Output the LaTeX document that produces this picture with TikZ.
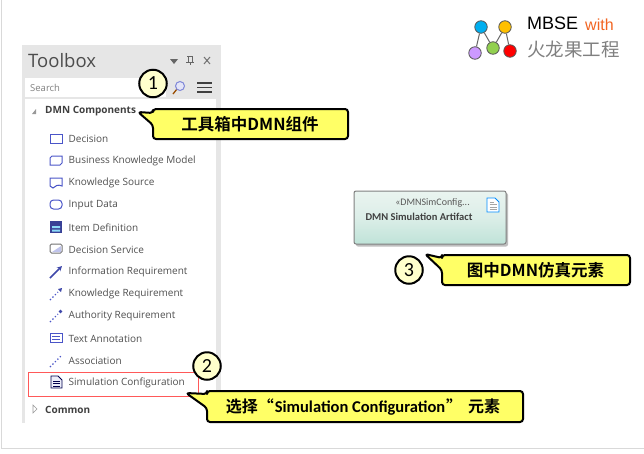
\documentclass[tikz,border=0pt]{standalone}
\usepackage{fontspec}
\setmainfont{Open Sans}
\newfontfamily\cjk{Noto Sans CJK SC}[BoldFont={Noto Sans CJK SC Bold}]
\newfontfamily\carl{Carlito}
\newfontfamily\libs{Liberation Sans}
\usetikzlibrary{arrows.meta,shadows}
\definecolor{itemtext}{HTML}{505050}
\definecolor{iconblue}{HTML}{4A55C8}
\definecolor{calloutfill}{HTML}{FFFF66}
\definecolor{circlefill}{HTML}{FFFFCC}
\definecolor{panelgrey}{HTML}{E6E6E6}
\definecolor{elemtop}{HTML}{EAF4F0}
\definecolor{elemmid}{HTML}{DCEEE8}
\definecolor{elembot}{HTML}{BFE3D8}
\definecolor{logoblue}{HTML}{00AEEF}
\definecolor{logoorange}{HTML}{FFC000}
\definecolor{logopurple}{HTML}{CC99FF}
\definecolor{logogreen}{HTML}{92D050}
\definecolor{logored}{HTML}{FF0000}
\definecolor{logowith}{HTML}{F26522}
\tikzset{
  x=1pt,y=-1pt,
  itemlabel/.style={anchor=west,inner sep=0pt,text=itemtext,font=\fontsize{10}{12}\selectfont},
  grouplabel/.style={anchor=west,inner sep=0pt,text=black!75,font=\fontsize{10}{12}\selectfont\bfseries},
  callout/.style={draw=black,line width=2pt,fill=calloutfill,rounded corners=3pt,line join=round},
  calltext/.style={inner sep=0pt,text=black,font=\fontsize{16.5}{18}\selectfont\bfseries\cjk},
  numcircle/.style={circle,draw=black,line width=2pt,fill=circlefill,inner sep=0pt,minimum size=27.5pt,font=\fontsize{20}{22}\selectfont\carl},
  iconline/.style={draw=iconblue,line width=1pt,fill=white},
  dotted link/.style={draw=iconblue,line width=1.2pt,dash pattern=on 1.3pt off 2.2pt},
  logoedge/.style={draw=black!60,line width=1pt},
  logodot/.style={circle,draw=black!65,line width=.8pt,inner sep=0pt,minimum size=12.5pt},
}
\begin{document}
\begin{tikzpicture}
\useasboundingbox (0,0) rectangle (644,453);
\fill[white] (0,0) rectangle (644,453);
\draw[black!15,line width=1pt] (1,-2) -- (1,448) -- (644,448);
% toolbox panel
\fill[panelgrey] (22,45) rectangle (221,423);
\fill[white] (25,99) rectangle (216,423);
\fill[white] (25,78) rectangle (166,97);
\node[anchor=west,inner sep=0pt,text=black!70,font=\fontsize{18.5}{20}\selectfont] (title) at (28,60.5) {Toolbox};
\fill[black!60] (170,59) -- (178,59) -- (174,64) -- cycle;
\draw[black!60,line width=1pt] (187,56) -- (193,56) (188,56) rectangle (192,62) (186,62) -- (194,62) (190,62) -- (190,65);
\draw[black!55,line width=1pt] (204,57) -- (210,64) (210,57) -- (204,64);
\node[anchor=west,inner sep=0pt,text=black!50,font=\fontsize{9.5}{11}\selectfont] (search) at (30,87.5) {Search};
\draw[black!40!orange,line width=1.3pt] (177,89) -- (173,94);
\draw[iconblue!70,fill=iconblue!15,line width=1pt] (180,86) circle (4.5);
\draw[black!75,line width=1.4pt] (197,83) -- (212,83) (197,87.5) -- (212,87.5) (197,92) -- (212,92);
% groups
\fill[black!40] (36,109) -- (36,114) -- (32,114) -- cycle;
\node[grouplabel] (dmn) at (45,111.5) {DMN Components};
\draw[black!40,line width=.6pt,fill=white] (33,405) -- (37,409) -- (33,413) -- cycle;
\node[grouplabel] (common) at (45,409.5) {Common};
% items
\node[itemlabel] (i1) at (68.5,138.5) {Decision};
\node[itemlabel] (i2) at (68.5,160.5) {Business Knowledge Model};
\node[itemlabel] (i3) at (68.5,183) {Knowledge Source};
\node[itemlabel] (i4) at (68.5,205) {Input Data};
\node[itemlabel] (i5) at (68.5,227.5) {Item Definition};
\node[itemlabel] (i6) at (68.5,249.5) {Decision Service};
\node[itemlabel] (i7) at (68.5,271.5) {Information Requirement};
\node[itemlabel] (i8) at (68.5,294) {Knowledge Requirement};
\node[itemlabel] (i9) at (68.5,316) {Authority Requirement};
\node[itemlabel] (i10) at (68.5,338.5) {Text Annotation};
\node[itemlabel] (i11) at (68.5,360.5) {Association};
\node[itemlabel] (i12) at (68.5,382.5) {Simulation Configuration};
% icons
\draw[iconline] (50,134) rectangle (62,143);
\draw[iconline] (52,156) -- (62,156) -- (62,163) -- (60,165) -- (50,165) -- (50,158) -- cycle;
\draw[iconline] (50,178) -- (62,178) -- (62,186) .. controls (58,184) and (55,186) .. (53,188) .. controls (52,187) and (51,187) .. (50,186) -- cycle;
\draw[iconline,rounded corners=3.5pt] (50,200) rectangle (62,209);
\fill[iconblue!75!black] (50,221) rectangle (62,233);
\fill[cyan!45] (52,226) rectangle (60,228) (52,229.5) rectangle (60,231.5);
\draw[black!55,line width=1pt,fill=white,rounded corners=1.5pt] (50,244) rectangle (62,253);
\fill[iconblue!35] (52,252) -- (61,252) -- (61,246) -- cycle;
\draw[iconblue!85!black,line width=1.5pt,-{Stealth[length=5pt,width=5pt]}] (50,278) -- (62,266);
\draw[dotted link] (50,300) -- (58,292);
\fill[iconblue!85!black] (58,289) -- (62,288) -- (61,292) -- cycle;
\draw[dotted link] (50,322) -- (58,314);
\fill[iconblue!85!black] (60.5,311.5) circle (1.9);
\draw[iconline] (50,333) rectangle (62,342);
\draw[iconblue,line width=1pt] (52,336) -- (60,336);
\draw[iconblue,line width=.8pt] (52,339) -- (60,339);
\draw[dotted link] (50,367) -- (62,355);
\draw[black!70!blue,line width=.9pt,fill=iconblue!10] (51,376) -- (58,376) -- (62,380) -- (62,388) -- (51,388) -- cycle;
\draw[black!70!blue,line width=.6pt] (53,381) -- (60,381) (53,383.5) -- (60,383.5) (53,386) -- (60,386);
% selection box
\draw[red!65!white,line width=1pt] (28.5,372) rectangle (198.5,396.5);
% DMN element
\fill[black!25,rounded corners=2pt] (356,193) rectangle (508,246.5);
\shade[top color=elemtop,bottom color=elembot,middle color=elemmid,rounded corners=2pt] (354,191) rectangle (506,244);
\draw[black!50,line width=1pt,rounded corners=2pt] (354,191) rectangle (506,244);
\node[anchor=east,inner sep=0pt,text=black!65,font=\fontsize{10}{11}\selectfont\carl] (stereo) at (470,203) {«DMNSimConfig...};
\node[anchor=center,inner sep=0pt,text=black!75,font=\fontsize{10.5}{12}\selectfont\carl\bfseries] (artifact) at (419,217) {DMN Simulation Artifact};
\draw[blue!45!cyan,line width=.8pt,fill=white] (487,198) -- (495,198) -- (499,202) -- (499,212) -- (487,212) -- cycle;
\draw[black!35,line width=.6pt] (489.5,202) -- (494,202) (489.5,204.5) -- (497,204.5) (489.5,207) -- (497,207) (489.5,209.5) -- (497,209.5);
% callouts
\draw[callout] (153,113) -- (138,112) -- (153,125) -- (153,139) -- (348,139) -- (348,109) -- (153,109) -- cycle;
\node[calltext] (c1) at (250,124) {工具箱中DMN组件};
\draw[callout] (207,394) -- (186,393) -- (207,408) -- (207,422) -- (523,422) -- (523,391) -- (207,391) -- cycle;
\node[calltext] (c2) at (363,407) {\fontsize{16}{18}\selectfont 选择“\hspace{1pt}{\carl\bfseries\fontsize{16.5}{18}\selectfont Simulation Configuration}\hspace{1pt}”\hspace{6pt}元素};
\draw[callout] (442,258) -- (425,254) -- (442,270) -- (442,285) -- (630,285) -- (630,255) -- (442,255) -- cycle;
\node[calltext] (c3) at (535.5,270) {图中DMN仿真元素};
\node[numcircle] (n1) at (153,83.5) {1};
\node[numcircle] (n2) at (207,366) {2};
\node[numcircle] (n3) at (409,270) {3};
% logo
\node[logodot,fill=logoblue] (lb) at (481,27) {};
\node[logodot,fill=logoorange] (lo) at (505,27) {};
\node[logodot,fill=logopurple] (lp) at (475,53) {};
\node[logodot,fill=logogreen] (lg) at (493,48) {};
\node[logodot,fill=logored] (lr) at (510,51) {};
\draw[logoedge] (lb) -- (lp) (lb) -- (lg) (lo) -- (lg) (lo) -- (lr);
\node[anchor=west,inner sep=0pt,text=black,font=\fontsize{18}{20}\selectfont\libs] (mbse) at (527,23.5) {MBSE};
\node[anchor=west,inner sep=0pt,text=logowith,font=\fontsize{16}{18}\selectfont\libs] (with) at (585,24.5) {with};
\node[anchor=west,inner sep=0pt,text=black!50,font=\fontsize{18.5}{22}\selectfont\cjk] (brand) at (527,49) {火龙果工程};
\end{tikzpicture}
\end{document}
